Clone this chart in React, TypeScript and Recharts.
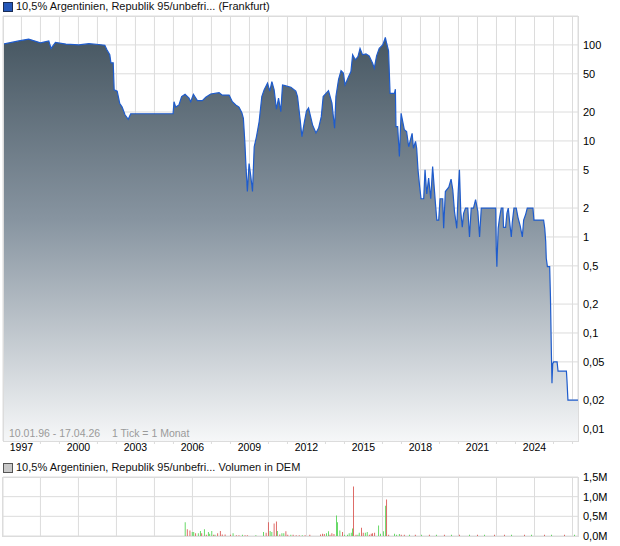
import { ComposedChart, Area, Bar, Cell, XAxis, YAxis, CartesianGrid } from 'recharts';

// price (decimal year / quote in %)
const priceDates = [
  1996.03, 1996.86, 1997.38, 1998.0, 1998.44, 1998.56, 1998.79, 1999.34, 2000.02, 2000.55,
  2001.07, 2001.39, 2001.5, 2001.65, 2001.71, 2001.83, 2001.88, 2002.04, 2002.17, 2002.3,
  2002.45, 2002.62, 2002.75, 2004.98, 2005.03, 2005.12, 2005.29, 2005.43, 2005.61, 2005.82,
  2005.91, 2006.05, 2006.26, 2006.52, 2006.7, 2006.96, 2007.4, 2007.57, 2007.93, 2008.1,
  2008.28, 2008.45, 2008.6, 2008.68, 2008.76, 2008.81, 2008.89, 2008.98, 2009.07, 2009.16,
  2009.25, 2009.37, 2009.51, 2009.65, 2009.77, 2009.95, 2010.07, 2010.18, 2010.3, 2010.42,
  2010.53, 2010.65, 2010.74, 2010.92, 2011.18, 2011.44, 2011.53, 2011.67, 2011.76, 2011.88,
  2012.0, 2012.11, 2012.32, 2012.5, 2012.64, 2012.78, 2012.88, 2013.16, 2013.34, 2013.48,
  2013.55, 2013.69, 2013.82, 2013.94, 2014.03, 2014.22, 2014.34, 2014.43, 2014.57, 2014.71,
  2014.82, 2014.95, 2015.13, 2015.3, 2015.48, 2015.57, 2015.69, 2015.83, 2016.01, 2016.1,
  2016.15, 2016.22, 2016.32, 2016.4, 2016.63, 2016.68, 2016.71, 2016.8, 2016.89, 2016.98,
  2017.15, 2017.27, 2017.38, 2017.56, 2017.63, 2017.74, 2017.8, 2017.87, 2017.96, 2018.03,
  2018.17, 2018.24, 2018.33, 2018.43, 2018.54, 2018.64, 2018.79, 2018.86, 2018.96, 2019.03,
  2019.17, 2019.22, 2019.31, 2019.49, 2019.61, 2019.7, 2019.79, 2019.91, 2019.98, 2020.05,
  2020.12, 2020.2, 2020.27, 2020.37, 2020.49, 2020.58, 2020.67, 2020.79, 2020.9, 2021.02,
  2021.11, 2021.2, 2021.96, 2021.99, 2022.02, 2022.09, 2022.16, 2022.25, 2022.34, 2022.37,
  2022.48, 2022.55, 2022.62, 2022.69, 2022.78, 2022.83, 2022.92, 2023.04, 2023.13, 2023.25,
  2023.36, 2023.43, 2023.53, 2023.62, 2023.92, 2023.97, 2024.48, 2024.54, 2024.59, 2024.62,
  2024.68, 2024.8, 2024.84, 2024.89, 2024.92, 2024.96, 2025.01, 2025.19, 2025.24, 2025.68,
  2025.71, 2025.76, 2026.29,
];
const priceValues = [
  102, 110, 115, 105, 110, 92, 106, 102, 100, 103,
  101, 99, 89, 79, 65, 65, 34, 33, 24.7, 22.5,
  18.7, 16.8, 19.2, 19.2, 25.6, 22.5, 23.7, 29, 30.6, 27.9,
  25.6, 30.6, 26.3, 26.3, 28.5, 30.8, 31.8, 30, 30, 25.6,
  23.7, 22.5, 19.7, 17.2, 9.5, 5.8, 2.97, 5.8, 4.3, 2.97,
  8.7, 11.1, 15.9, 29, 34, 40, 33, 41.5, 34, 21.4,
  27.9, 20.2, 38.3, 37.4, 36.2, 33, 29, 16.5, 11.1, 15.3,
  20.5, 22, 14.7, 12.1, 13.6, 17.9, 29, 33.4, 24.7, 13.6,
  29, 43.8, 54, 51, 38.3, 46.8, 52.7, 79, 70, 75.6,
  92, 79, 80.6, 77, 64.5, 57.2, 77, 92, 100, 111,
  120, 104, 87, 31.3, 31.3, 34.6, 14.1, 14.1, 6.9, 19.4,
  13.1, 12.5, 8.7, 12, 8.4, 9.9, 8.4, 5, 3.3, 2.5,
  2.5, 5, 2.8, 4.1, 2.5, 5.4, 2.2, 1.5, 1.5, 2.5,
  2.5, 1.23, 2.97, 3.3, 4, 3.1, 1.84, 1.23, 2.8, 5,
  1.84, 1.26, 1.76, 2, 2, 1, 2, 2, 2.45, 1.84,
  1, 2, 2, 0.73, 0.49, 1.23, 1.57, 2, 2, 1.26,
  1.26, 1.76, 2, 1.45, 1, 1.4, 2, 2, 1.6, 1.3,
  1, 1.5, 1.7, 2, 2, 1.5, 1.5, 1.23, 0.9, 0.6,
  0.49, 0.49, 0.24, 0.061, 0.03, 0.048, 0.05, 0.05, 0.04, 0.04,
  0.032, 0.02, 0.02,
];

// volume (decimal year / millions DEM / r = down, g = up)
const volDates = [
  2005.62, 2005.73, 2005.87, 2005.99, 2006.07, 2006.17, 2006.31, 2006.42, 2006.49, 2006.63,
  2006.73, 2006.84, 2006.91, 2007.02, 2007.12, 2007.19, 2007.33, 2007.47, 2007.57, 2007.72,
  2008.0, 2008.14, 2008.31, 2008.45, 2008.63, 2008.77, 2008.89, 2009.34, 2009.74, 2009.88,
  2010.0, 2010.09, 2010.18, 2010.3, 2010.42, 2010.47, 2010.6, 2010.71, 2010.81, 2010.92,
  2011.02, 2011.18, 2011.3, 2011.46, 2011.62, 2011.78, 2011.93, 2012.18, 2012.74, 2012.85,
  2012.94, 2013.06, 2013.16, 2013.24, 2013.34, 2013.45, 2013.58, 2013.64, 2013.76, 2013.9,
  2014.01, 2014.16, 2014.25, 2014.36, 2014.43, 2014.48, 2014.61, 2014.71, 2014.78, 2014.9,
  2014.99, 2015.1, 2015.2, 2015.31, 2015.41, 2015.48, 2015.59, 2015.8, 2015.9, 2016.05,
  2016.17, 2016.22, 2016.33, 2016.64, 2016.75, 2016.89, 2016.99, 2017.15, 2017.42, 2017.73,
  2018.05, 2018.47, 2018.84, 2019.26, 2019.63, 2020.05, 2020.58, 2021.0, 2021.37, 2021.9,
  2022.42, 2022.79, 2023.48, 2023.85, 2024.53, 2024.9, 2025.58, 2026.11,
];
const volValues = [
  0.35, 0.17, 0.14, 0.1, 0.1, 0.07, 0.07, 0.13, 0.07, 0.17,
  0.03, 0.1, 0.06, 0.13, 0.03, 0.03, 0.07, 0.13, 0.04, 0.04,
  0.03, 0.07, 0.02, 0.02, 0.03, 0.02, 0.02, 0.02, 0.1, 0.08,
  0.35, 0.13, 0.1, 0.32, 0.37, 0.13, 0.04, 0.07, 0.07, 0.12,
  0.03, 0.03, 0.03, 0.02, 0.02, 0.02, 0.02, 0.03, 0.04, 0.06,
  0.05, 0.07, 0.12, 0.03, 0.07, 0.05, 0.52, 0.35, 0.14, 0.1,
  0.03, 0.03, 0.07, 0.08, 0.19, 1.26, 0.03, 0.03, 0.08, 0.21,
  0.08, 0.08, 0.1, 0.03, 0.06, 0.07, 0.08, 0.27, 0.06, 0.12,
  0.77, 0.93, 0.03, 0.06, 0.03, 0.05, 0.03, 0.03, 0.03, 0.03,
  0.03, 0.03, 0.03, 0.03, 0.03, 0.03, 0.03, 0.03, 0.03, 0.03,
  0.03, 0.03, 0.03, 0.03, 0.03, 0.03, 0.03, 0.03,
];
const volColors = [
  'g', 'r', 'r', 'g', 'g', 'r', 'g', 'g', 'r', 'g',
  'r', 'g', 'g', 'g', 'r', 'g', 'r', 'r', 'r', 'r',
  'r', 'g', 'r', 'r', 'g', 'r', 'r', 'g', 'g', 'r',
  'r', 'g', 'g', 'r', 'r', 'g', 'r', 'g', 'g', 'r',
  'r', 'g', 'r', 'r', 'r', 'g', 'r', 'r', 'r', 'r',
  'r', 'g', 'g', 'r', 'r', 'r', 'g', 'g', 'g', 'r',
  'g', 'g', 'g', 'g', 'g', 'r', 'r', 'g', 'g', 'r',
  'r', 'g', 'g', 'r', 'r', 'r', 'r', 'g', 'g', 'g',
  'g', 'r', 'r', 'g', 'g', 'g', 'r', 'r', 'g', 'r',
  'g', 'r', 'g', 'r', 'g', 'r', 'g', 'r', 'g', 'r',
  'r', 'g', 'r', 'g', 'r', 'g', 'r', 'g',
];

const yearGrid = [
  1997, 1998, 1999, 2000, 2001, 2002, 2003, 2004, 2005, 2006, 2007, 2008, 2009, 2010, 2011,
  2012, 2013, 2014, 2015, 2016, 2017, 2018, 2019, 2020, 2021, 2022, 2023, 2024, 2025, 2026,
];
const yearLabels = [1997, 2000, 2003, 2006, 2009, 2012, 2015, 2018, 2021, 2024];
const priceTicks = [0.01, 0.02, 0.05, 0.1, 0.2, 0.5, 1, 2, 5, 10, 20, 50, 100];
const volTicks = [0, 0.5, 1, 1.5];

const FONT = '"Liberation Sans", Arial, sans-serif';
const GRID = '#dcdcdc';
const X_DOMAIN = [1996.03, 2026.29];

const priceData = priceDates.map((t, i) => ({ t, p: priceValues[i] }));
const volData = volDates.map((t, i) => ({ t, v: volValues[i], c: volColors[i] }));

const deNum = (v: number) => String(v).replace('.', ',');

export default function App() {
  return (
    <div style={{ position: 'absolute', left: 0, top: 0, width: 620, height: 546, background: '#fff', fontFamily: FONT }}>
      {/* titles */}
      <div style={{ position: 'absolute', left: 3, top: 2, width: 8, height: 8, background: '#2457b8', border: '1px solid #1a2d55' }} />
      <div style={{ position: 'absolute', left: 16, top: 0, fontSize: 11, lineHeight: '13px', color: '#111', whiteSpace: 'nowrap' }}>
        10,5% Argentinien, Republik 95/unbefri... (Frankfurt)
      </div>
      <div style={{ position: 'absolute', left: 3, top: 463, width: 8, height: 8, background: '#c8c8c8', border: '1px solid #555' }} />
      <div style={{ position: 'absolute', left: 16, top: 461, fontSize: 11, lineHeight: '13px', color: '#111', whiteSpace: 'nowrap' }}>
        10,5% Argentinien, Republik 95/unbefri... Volumen in DEM
      </div>

      <div style={{ position: 'absolute', left: 0, top: 0 }}>
        <ComposedChart width={620} height={456} data={priceData} margin={{ top: 16, right: 0, left: 3, bottom: 0 }}>
          <defs>
            <linearGradient id="priceFill" x1="0" y1="0" x2="0" y2="1">
              <stop offset="0%" stopColor="#475762" />
              <stop offset="45%" stopColor="#8794a0" />
              <stop offset="100%" stopColor="#f6f7f8" />
            </linearGradient>
          </defs>
          <CartesianGrid stroke={GRID} strokeWidth={1} />
          <XAxis
            dataKey="t"
            type="number"
            domain={X_DOMAIN}
            ticks={yearGrid}
            allowDataOverflow
            height={15}
            axisLine={false}
            tickLine={{ stroke: GRID }}
            tickSize={3}
            tickMargin={0}
            interval={0}
            tick={{ fontSize: 10.5, fill: '#000', fontFamily: FONT }}
            tickFormatter={(v: number) => (yearLabels.includes(v) ? String(v) : '')}
          />
          <YAxis
            orientation="right"
            scale="log"
            type="number"
            domain={[0.0075, 200]}
            ticks={priceTicks}
            allowDataOverflow
            width={42}
            axisLine={false}
            tickLine={false}
            tickSize={0}
            tickMargin={5}
            interval={0}
            tick={{ fontSize: 11, fill: '#000', fontFamily: FONT }}
            tickFormatter={deNum}
          />
          <Area
            type="linear"
            dataKey="p"
            stroke="#1f5ccc"
            strokeWidth={1.2}
            fill="url(#priceFill)"
            fillOpacity={1}
            baseValue={0.0075}
            dot={false}
            activeDot={false}
            isAnimationActive={false}
          />
        </ComposedChart>
      </div>
      <div style={{ position: 'absolute', left: 3, top: 16, width: 574, height: 424, border: `1px solid ${GRID}`, pointerEvents: 'none' }} />
      <div style={{ position: 'absolute', left: 9, top: 427, fontSize: 10.5, lineHeight: '12px', color: '#9a9a9a', whiteSpace: 'nowrap' }}>
        10.01.96 - 17.04.26
      </div>
      <div style={{ position: 'absolute', left: 112, top: 427, fontSize: 10.5, lineHeight: '12px', color: '#9a9a9a', whiteSpace: 'nowrap' }}>
        1 Tick = 1 Monat
      </div>

      <div style={{ position: 'absolute', left: 0, top: 470 }}>
        <ComposedChart width={620} height={76} data={volData} margin={{ top: 7, right: 0, left: 3, bottom: 10 }}>
          <CartesianGrid stroke={GRID} strokeWidth={1} />
          <XAxis dataKey="t" type="number" domain={X_DOMAIN} ticks={yearGrid} allowDataOverflow hide />
          <YAxis
            orientation="right"
            type="number"
            domain={[0, 1.5]}
            ticks={volTicks}
            allowDataOverflow
            width={42}
            axisLine={false}
            tickLine={false}
            tickSize={0}
            tickMargin={5}
            interval={0}
            tick={{ fontSize: 11, fill: '#000', fontFamily: FONT }}
            tickFormatter={(v: number) => v.toFixed(1).replace('.', ',') + 'M'}
          />
          <Bar dataKey="v" barSize={1.3} isAnimationActive={false}>
            {volData.map((d, i) => (
              <Cell key={i} fill={d.c === 'r' ? '#d9534f' : '#4fd34f'} />
            ))}
          </Bar>
        </ComposedChart>
      </div>
      <div style={{ position: 'absolute', left: 2, top: 477, width: 575, height: 58, border: `1px solid ${GRID}`, pointerEvents: 'none' }} />
    </div>
  );
}
